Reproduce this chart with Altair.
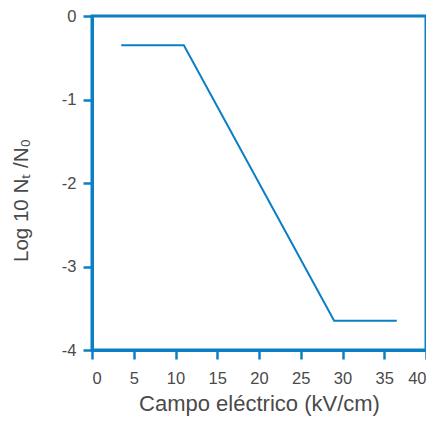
import altair as alt
import pandas as pd

campo = [3.5, 11.0, 29.0, 36.5]
log_ratio = [-0.35, -0.35, -3.65, -3.65]

df = pd.DataFrame({"campo": campo, "log": log_ratio})

BLUE = "#0a7fc4"
GRAY = "#4a4a4a"

chart = alt.Chart(df).mark_line(color=BLUE, strokeWidth=2).encode(
    x=alt.X("campo:Q",
            scale=alt.Scale(domain=[0, 40], nice=False, zero=False),
            axis=alt.Axis(values=[0, 5, 10, 15, 20, 25, 30, 35, 40],
                          title="Campo eléctrico (kV/cm)",
                          labelPadding=11,
                          titlePadding=7)),
    y=alt.Y("log:Q",
            scale=alt.Scale(domain=[-4, 0], nice=False, zero=False),
            axis=alt.Axis(values=[0, -1, -2, -3, -4],
                          labelExpr="toString(datum.value)",
                          labelPadding=7,
                          title="Log  10 Nₜ /N₀",
                          titleFontSize=20.5,
                          titleY=184,
                          titlePadding=30)),
).properties(
    width=334, height=334,
    autosize=alt.AutoSizeParams(type="none"),
    padding={"left": 84, "top": 8, "right": 0, "bottom": 68},
).configure_view(
    stroke=BLUE, strokeWidth=3
).configure_axis(
    domainColor=BLUE, domainWidth=3,
    tickColor=BLUE, tickWidth=2.5, tickSize=9,
    grid=False,
    labelColor=GRAY, labelFontSize=16.5, labelFont="Liberation Sans",
    titleColor=GRAY, titleFontSize=22, titleFont="Liberation Sans",
    titleFontWeight="normal",
)

chart.save("out.html", embed_options={"renderer": "svg", "actions": False})
